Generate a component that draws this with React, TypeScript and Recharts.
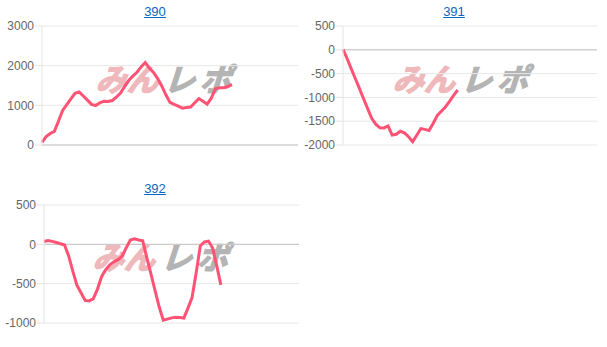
import React from "react";
import {
  LineChart,
  Line,
  XAxis,
  YAxis,
  CartesianGrid,
  ReferenceLine,
} from "recharts";

// 差枚推移（台番号ごと）
const titles = ["390", "391", "392"];

const series390 = [
  68, 210, 290, 343, 605, 870, 1020, 1165, 1305, 1340, 1235, 1130, 1025, 995,
  1065, 1105, 1095, 1120, 1205, 1310, 1470, 1625, 1735, 1835, 1970, 2080, 1940,
  1830, 1675, 1490, 1265, 1075, 1025, 980, 930, 945, 955, 1065, 1170, 1105,
  1030, 1180, 1420, 1445, 1445, 1475, 1530,
];

const series391 = [
  10, -183, -395, -603, -810, -1023, -1230, -1440, -1562, -1640, -1642, -1600,
  -1793, -1775, -1712, -1745, -1827, -1930, -1795, -1655, -1672, -1697, -1548,
  -1382, -1290, -1200, -1085, -957, -845,
];

const series392 = [
  35, 47, 38, 23, 8, -8, -148, -340, -519, -616, -713, -719, -691, -569, -412,
  -322, -260, -222, -195, -151, -43, 56, 70, 55, 45, -169, -375, -587, -794,
  -965, -950, -935, -926, -931, -937, -811, -676, -361, -20, 30, 41, -48, -271,
  -515,
];

const ticks390 = [0, 1000, 2000, 3000];
const ticks391 = [-2000, -1500, -1000, -500, 0, 500];
const ticks392 = [-1000, -500, 0, 500];

const SLOTS = 63;

const toRows = (values: number[]) =>
  Array.from({ length: SLOTS }, (_, i) => ({
    i,
    v: i < values.length ? values[i] : null,
  }));

const FONT = '"Liberation Sans", Arial, sans-serif';

// みんレポ watermark behind each chart
const Watermark = ({ left, top }: { left: number; top: number }) => (
  <div
    style={{
      position: "absolute",
      left,
      top,
      fontFamily: '"Noto Sans CJK JP", sans-serif',
      fontWeight: 700,
      fontSize: 31,
      lineHeight: 1,
      whiteSpace: "nowrap",
      transform: "skewX(-18deg)",
    }}
  >
    <span style={{ color: "#efb8bb", WebkitTextStroke: "1.5px #efb8bb" }}>みん</span>
    <span
      style={{
        color: "#b4b4b4",
        WebkitTextStroke: "1.5px #b4b4b4",
        marginLeft: 6,
        letterSpacing: 5,
      }}
    >
      レポ
    </span>
  </div>
);

interface PanelProps {
  title: string;
  values: number[];
  ticks: number[];
  left: number;
  top: number;
  titleX: number;
  titleTop: number;
  axisWidth: number;
  margin: { top: number; right: number; bottom: number; left: number };
  mark: { left: number; top: number };
}

const Panel = ({
  title,
  values,
  ticks,
  left,
  top,
  titleX,
  titleTop,
  axisWidth,
  margin,
  mark,
}: PanelProps) => (
  <div style={{ position: "absolute", left, top, width: 300, height: 165 }}>
    <div
      style={{
        position: "absolute",
        left: titleX - 40,
        width: 80,
        top: titleTop,
        textAlign: "center",
        fontFamily: FONT,
        fontSize: 13,
        color: "#0b66c3",
        textDecoration: "underline",
      }}
    >
      {title}
    </div>
    <Watermark left={mark.left} top={mark.top} />
    <div style={{ position: "absolute", left: 0, top: 0 }}>
      <LineChart width={300} height={160} data={toRows(values)} margin={margin}>
        <CartesianGrid vertical={false} stroke="#e8e8e8" />
        <XAxis dataKey="i" type="number" domain={[0, SLOTS - 1]} hide />
        <YAxis
          width={axisWidth}
          domain={[ticks[0], ticks[ticks.length - 1]]}
          ticks={ticks}
          interval={0}
          axisLine={{ stroke: "#e4e4e4" }}
          tickLine={{ stroke: "#e4e4e4" }}
          tickSize={7}
          tickMargin={1}
          tick={{ fill: "#666", fontSize: 12, fontFamily: FONT }}
        />
        <ReferenceLine y={0} stroke="#c4c4c4" />
        <Line
          type="linear"
          dataKey="v"
          stroke="#ff5274"
          strokeWidth={3}
          dot={false}
          activeDot={false}
          isAnimationActive={false}
        />
      </LineChart>
    </div>
  </div>
);

export default function App() {
  return (
    <div
      style={{
        position: "absolute",
        left: 0,
        top: 0,
        width: 607,
        height: 347,
        background: "#fff",
        overflow: "hidden",
      }}
    >
      <Panel
        title={titles[0]}
        values={series390}
        ticks={ticks390}
        left={0}
        top={0}
        titleX={155}
        titleTop={4}
        axisWidth={42}
        margin={{ top: 26, right: 2, bottom: 15, left: 0 }}
        mark={{ left: 100, top: 62 }}
      />
      <Panel
        title={titles[1]}
        values={series391}
        ticks={ticks391}
        left={300}
        top={0}
        titleX={154}
        titleTop={4}
        axisWidth={43}
        margin={{ top: 26, right: 3, bottom: 15, left: 0 }}
        mark={{ left: 97, top: 62 }}
      />
      <Panel
        title={titles[2]}
        values={series392}
        ticks={ticks392}
        left={0}
        top={170}
        titleX={155}
        titleTop={11}
        axisWidth={44}
        margin={{ top: 35, right: 1, bottom: 7, left: 0 }}
        mark={{ left: 97, top: 70 }}
      />
    </div>
  );
}
